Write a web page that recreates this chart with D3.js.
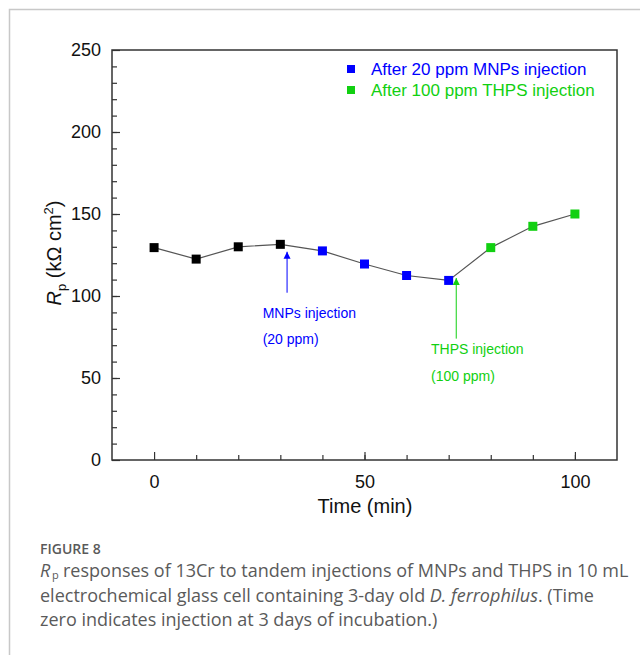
<!DOCTYPE html>
<html>
<head>
<meta charset="utf-8">
<script src="https://cdn.jsdelivr.net/npm/d3@7"></script>
<style>
  body { margin: 0; background: #fff; }
  svg text { font-family: "Liberation Sans", Arial, sans-serif; }
  svg text.caption { font-family: "Open Sans", sans-serif; }
</style>
</head>
<body>
<svg id="drawing_region"></svg>
<script>
// time in minutes and Rp values
const times = [0, 10, 20, 30, 40, 50, 60, 70, 80, 90, 100];
const rpValues = [129.5, 122.5, 130, 131.5, 127.5, 119.5, 112.5, 109.5, 129.5, 142.5, 150];
// stage of each point: 0 = before, 1 = after MNPs, 2 = after THPS
const stages = [0, 0, 0, 0, 1, 1, 1, 1, 2, 2, 2];
const legendLabels = ["After 20 ppm MNPs injection", "After 100 ppm THPS injection"];
const xTicks = [0, 50, 100];
const yTicks = [0, 50, 100, 150, 200, 250];
// arrows: x, y of tip, y of tail (data units)
const arrows = [
    {x: 31.6, y1: 127, y2: 102, stage: 1},
    {x: 71.8, y1: 111, y2: 74, stage: 2}
];
const notes = [
    {x: 25.8, y: 89.5, text: "MNPs injection", stage: 1},
    {x: 25.8, y: 73.5, text: "(20 ppm)", stage: 1},
    {x: 65.8, y: 67.5, text: "THPS injection", stage: 2},
    {x: 65.8, y: 51, text: "(100 ppm)", stage: 2}
];

const colors = ["#000000", "#0000ff", "#11d011"];

const config = {
    width: 640,
    height: 655,
    margin: {top: 50, right: 23, bottom: 195, left: 112}
};

const svg = d3.select('#drawing_region')
    .attr('width', config.width)
    .attr('height', config.height);

// light panel border
svg.append('rect')
    .attr('x', 9.5).attr('y', 9.5)
    .attr('width', 700).attr('height', 700)
    .attr('fill', 'none')
    .attr('stroke', '#c8c8c8')
    .attr('stroke-width', 1.5);

const inner_width = config.width - config.margin.left - config.margin.right;
const inner_height = config.height - config.margin.top - config.margin.bottom;

const chart = svg.append('g')
    .attr('transform', `translate(${config.margin.left}, ${config.margin.top})`);

const xscale = d3.scaleLinear().domain([-10, 110]).range([0, inner_width]);
const yscale = d3.scaleLinear().domain([0, 250]).range([inner_height, 0]);

// minor ticks
const xaxis_minor = d3.axisTop(xscale).tickValues(d3.range(10, 101, 10)).tickSize(5).tickFormat('');
const yaxis_minor = d3.axisRight(yscale).tickValues(d3.range(10, 250, 10)).tickSize(5).tickFormat('');
chart.append('g').attr('transform', `translate(0, ${inner_height})`).call(xaxis_minor);
chart.append('g').call(yaxis_minor);

// major ticks (inward) with labels outside
const xaxis = d3.axisTop(xscale).tickValues(xTicks).tickSize(8).tickFormat(d3.format('d'));
const xg = chart.append('g').attr('transform', `translate(0, ${inner_height})`).call(xaxis);
xg.selectAll('text').attr('y', 22).attr('dy', '0.35em').attr('font-size', 18).attr('fill', '#111');

const yaxis = d3.axisRight(yscale).tickValues(yTicks).tickSize(8).tickFormat(d3.format('d'));
const yg = chart.append('g').call(yaxis);
yg.selectAll('text').attr('x', -11).attr('text-anchor', 'end').attr('font-size', 18).attr('fill', '#111');

chart.selectAll('.domain').remove();
chart.selectAll('.tick line').attr('stroke', '#333').attr('stroke-width', 1.2);

// frame
chart.append('rect')
    .attr('width', inner_width).attr('height', inner_height)
    .attr('fill', 'none')
    .attr('stroke', '#333')
    .attr('stroke-width', 1.5);

// line and markers
const line = d3.line()
    .x((d, i) => xscale(times[i]))
    .y(d => yscale(d));

chart.append('path')
    .datum(rpValues)
    .attr('d', line)
    .attr('fill', 'none')
    .attr('stroke', '#555')
    .attr('stroke-width', 1.2);

const ms = 9;
chart.selectAll('rect.pt')
    .data(rpValues)
    .enter()
    .append('rect')
    .attr('class', 'pt')
    .attr('x', (d, i) => xscale(times[i]) - ms / 2)
    .attr('y', d => yscale(d) - ms / 2)
    .attr('width', ms).attr('height', ms)
    .attr('fill', (d, i) => colors[stages[i]]);

// arrows
const defs = svg.append('defs');
[1, 2].forEach(s => {
    defs.append('marker')
        .attr('id', 'arrow' + s)
        .attr('viewBox', '0 0 10 10')
        .attr('refX', 10).attr('refY', 5)
        .attr('markerWidth', 7).attr('markerHeight', 12)
        .attr('markerUnits', 'userSpaceOnUse')
        .attr('orient', 'auto')
        .append('path')
        .attr('d', 'M0,0 L10,5 L0,10 Z')
        .attr('fill', colors[s]);
});

chart.selectAll('line.arrow')
    .data(arrows)
    .enter()
    .append('line')
    .attr('class', 'arrow')
    .attr('x1', d => xscale(d.x)).attr('x2', d => xscale(d.x))
    .attr('y1', d => yscale(d.y2)).attr('y2', d => yscale(d.y1))
    .attr('stroke', d => colors[d.stage])
    .attr('stroke-width', 1)
    .attr('marker-end', d => `url(#arrow${d.stage})`);

chart.selectAll('text.note')
    .data(notes)
    .enter()
    .append('text')
    .attr('class', 'note')
    .attr('x', d => xscale(d.x))
    .attr('y', d => yscale(d.y))
    .attr('dy', '0.35em')
    .attr('font-size', 14)
    .attr('fill', d => colors[d.stage])
    .text(d => d.text);

// legend
const legend = chart.append('g').attr('transform', `translate(${239}, ${19})`);
legendLabels.forEach((lab, i) => {
    const g = legend.append('g').attr('transform', `translate(0, ${i * 21})`);
    g.append('rect')
        .attr('x', -4).attr('y', -4)
        .attr('width', 8).attr('height', 8)
        .attr('fill', colors[i + 1]);
    g.append('text')
        .attr('x', 20).attr('dy', '0.35em')
        .attr('font-size', 17)
        .attr('fill', colors[i + 1])
        .text(lab);
});

// axis titles
svg.append('text')
    .attr('x', 365).attr('y', 513)
    .attr('text-anchor', 'middle')
    .attr('font-size', 20)
    .attr('fill', '#111')
    .text('Time (min)');

const ytitle = svg.append('text')
    .attr('transform', 'translate(61, 253) rotate(-90)')
    .attr('text-anchor', 'middle')
    .attr('font-size', 20)
    .attr('fill', '#111');
ytitle.append('tspan').attr('font-style', 'italic').text('R');
ytitle.append('tspan').attr('font-size', 13).attr('dy', 5).text('p');
ytitle.append('tspan').attr('dy', -5).text(' (kΩ cm');
ytitle.append('tspan').attr('font-size', 13).attr('dy', -8).text('2');
ytitle.append('tspan').attr('dy', 8).text(')');

// caption
const cap = svg.append('g').attr('fill', '#5a5a5a');
cap.append('text')
    .attr('class', 'caption')
    .attr('x', 40).attr('y', 554)
    .attr('font-size', 14)
    .attr('font-weight', 600)
    .text('FIGURE 8');

const capLines = [
    'responses of 13Cr to tandem injections of MNPs and THPS in 10 mL',
    'electrochemical glass cell containing 3-day old ',
    'zero indicates injection at 3 days of incubation.)'
];
cap.append('text').attr('class', 'caption').attr('x', 40).attr('y', 577)
    .attr('font-size', 18).attr('font-style', 'italic').text('R');
cap.append('text').attr('class', 'caption').attr('x', 52).attr('y', 579)
    .attr('font-size', 11).text('p');
cap.append('text').attr('class', 'caption').attr('x', 63).attr('y', 577)
    .attr('font-size', 18).text(capLines[0]);

const l2 = cap.append('text').attr('class', 'caption').attr('x', 40).attr('y', 602)
    .attr('font-size', 18);
l2.append('tspan').text(capLines[1]);
l2.append('tspan').attr('font-style', 'italic').text('D. ferrophilus');
l2.append('tspan').text('. (Time');

cap.append('text').attr('class', 'caption').attr('x', 40).attr('y', 626)
    .attr('font-size', 18)
    .text(capLines[2]);
</script>
</body>
</html>
